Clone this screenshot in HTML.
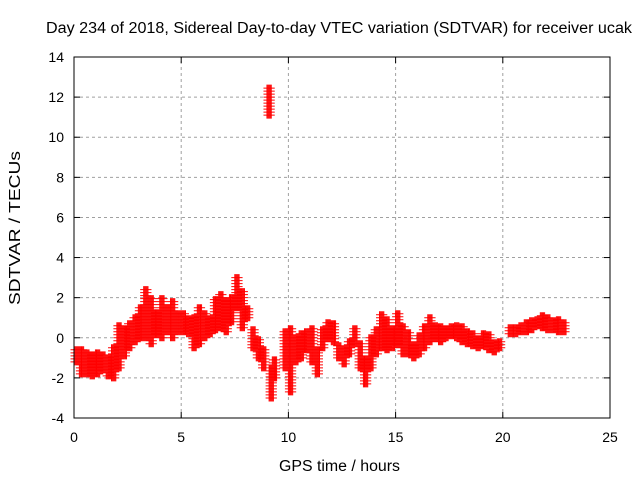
<!DOCTYPE html>
<html><head><meta charset="utf-8"><style>
html,body{margin:0;padding:0;background:#fff;}
svg text{font-family:"Liberation Sans",sans-serif;font-size:14px;fill:#000;}
</style></head><body>
<svg id="chart" width="640" height="480" xmlns="http://www.w3.org/2000/svg">
<rect width="640" height="480" fill="#fff"/>
<g id="grid"></g>
<g id="marks"></g>
<g id="axes"></g>
<text x="46" y="33" textLength="586" lengthAdjust="spacingAndGlyphs" style="font-size:15.5px">Day 234 of 2018, Sidereal Day-to-day VTEC variation (SDTVAR) for receiver ucak</text>
<text x="279" y="471" textLength="121" lengthAdjust="spacingAndGlyphs" style="font-size:15.5px">GPS time / hours</text>
<text transform="translate(20,305) rotate(-90)" textLength="154" lengthAdjust="spacingAndGlyphs" style="font-size:15.5px">SDTVAR / TECUs</text>
</svg>
<script>
const xTicks=[0,5,10,15,20,25];
const yTicks=[-4,-2,0,2,4,6,8,10,12,14];
const times=[0,0.25,0.5,0.75,1,1.25,1.5,1.75,2,2.25,2.5,2.75,3,3.25,3.5,3.75,4,4.25,4.5,4.75,5,5.25,5.5,5.75,6,6.25,6.5,6.75,7,7.25,7.5,7.75,8,8.25,8.5,8.75,9,9.1,9.25,9.75,10,10.25,10.5,10.75,11,11.25,11.5,11.75,12,12.25,12.5,12.75,13,13.25,13.5,13.75,14,14.25,14.5,14.75,15,15.25,15.5,15.75,16,16.25,16.5,16.75,17,17.25,17.5,17.75,18,18.25,18.5,18.75,19,19.25,19.5,19.75,20.25,20.5,20.75,21,21.25,21.5,21.75,22,22.25,22.5,22.75];
const minVals=[-1.2,-1.8,-1.8,-1.9,-1.8,-1.6,-1.9,-2.0,-1.5,-0.9,-0.5,-0.2,0,0,-0.3,0.2,0,0.3,0,0.3,0.3,0.2,-0.5,-0.3,0,0.2,0.4,0.5,0.3,0.8,1.5,0.5,1.0,-0.5,-1.0,-1.5,11.1,-3.0,-2.0,-1.5,-2.7,-1.2,-1.0,-0.6,-1.2,-1.8,-0.5,0,-0.2,-1.0,-1.3,-0.8,-0.3,-1.5,-2.3,-1.5,-0.8,-0.5,-0.6,-0.5,-0.3,-0.8,-0.8,-1.0,-0.8,-0.5,-0.2,0,-0.2,0,0.1,0,-0.2,-0.3,-0.4,-0.5,-0.4,-0.6,-0.7,-0.5,0.2,0.2,0.3,0.3,0.4,0.6,0.5,0.4,0.4,0.3,0.3];
const maxVals=[-0.6,-0.6,-0.7,-0.8,-0.7,-0.8,-1.0,-0.5,0.6,0.5,0.7,1.0,1.5,2.5,2.0,1.3,2.0,1.6,1.8,1.2,1.3,1.0,1.0,1.6,1.2,1.0,2.0,2.2,1.8,2.0,3.0,2.3,1.5,0.5,0,-0.5,12.5,-1.5,-1.0,0.3,0.5,0,0.3,0.3,0.5,-0.5,0.5,0.8,0.8,-0.4,-0.5,-0.2,0.5,-0.2,-1.0,0,0.4,1.2,1.0,0.5,1.2,0.6,0.3,-0.3,0.2,0.6,1.0,0.7,0.6,0.5,0.6,0.7,0.6,0.4,0.3,0,0.2,0.2,-0.2,-0.2,0.5,0.6,0.6,0.8,0.9,1.0,1.1,1.0,0.9,0.9,0.8];
const NS='http://www.w3.org/2000/svg';
const X0=74,X1=610,Y0=418,Y1=57;
function sx(v){return X0+(v-0)/(25-0)*(X1-X0);}
function sy(v){return Y0-(v+4)/(14+4)*(Y0-Y1);}
function mk(tag,attrs,parent){const e=document.createElementNS(NS,tag);for(const k in attrs)e.setAttribute(k,attrs[k]);parent.appendChild(e);return e;}
const grid=document.getElementById('grid'),axes=document.getElementById('axes'),marks=document.getElementById('marks');
xTicks.forEach(t=>{const x=sx(t);
 if(t>0&&t<25){const l=mk('line',{x1:x,x2:x,y1:Y0,y2:Y1,stroke:'#a0a0a0','stroke-dasharray':'3,3'},grid);
 
 }
 mk('line',{x1:x,x2:x,y1:Y0,y2:Y0-6,stroke:'#000'},axes);
 mk('line',{x1:x,x2:x,y1:Y1,y2:Y1+6,stroke:'#000'},axes);
 const tx=mk('text',{x:x,y:Y0+24,'text-anchor':'middle'},axes);tx.textContent=t;
 
 });
yTicks.forEach(t=>{const y=sy(t);
 if(t>-4&&t<14){const l=mk('line',{x1:X0,x2:X1,y1:y,y2:y,stroke:'#a0a0a0','stroke-dasharray':'3,3'},grid);
 
 }
 mk('line',{x1:X0,x2:X0+6,y1:y,y2:y,stroke:'#000'},axes);
 mk('line',{x1:X1,x2:X1-6,y1:y,y2:y,stroke:'#000'},axes);
 const tx=mk('text',{x:X0-10,y:y+5,'text-anchor':'end'},axes);tx.textContent=t;
 
 });
const frame=mk('rect',{x:X0,y:Y1,width:X1-X0,height:Y0-Y1,fill:'none',stroke:'#000'},axes);


let d='';
times.forEach((t,i)=>{const lo=minVals[i],hi=maxVals[i];
 for(let k=0;k<5;k++){const tt=t+k*0.05;const x=sx(tt);
  for(let v=lo;v<=hi+1e-6;v+=0.15){const y=sy(v);d+=`M${x-3.5} ${y}h7M${x} ${y-3.5}v7`;}}});
const p=mk('path',{d:d,stroke:'#ff0000','stroke-width':1,fill:'none'},marks);


</script>
</body></html>
